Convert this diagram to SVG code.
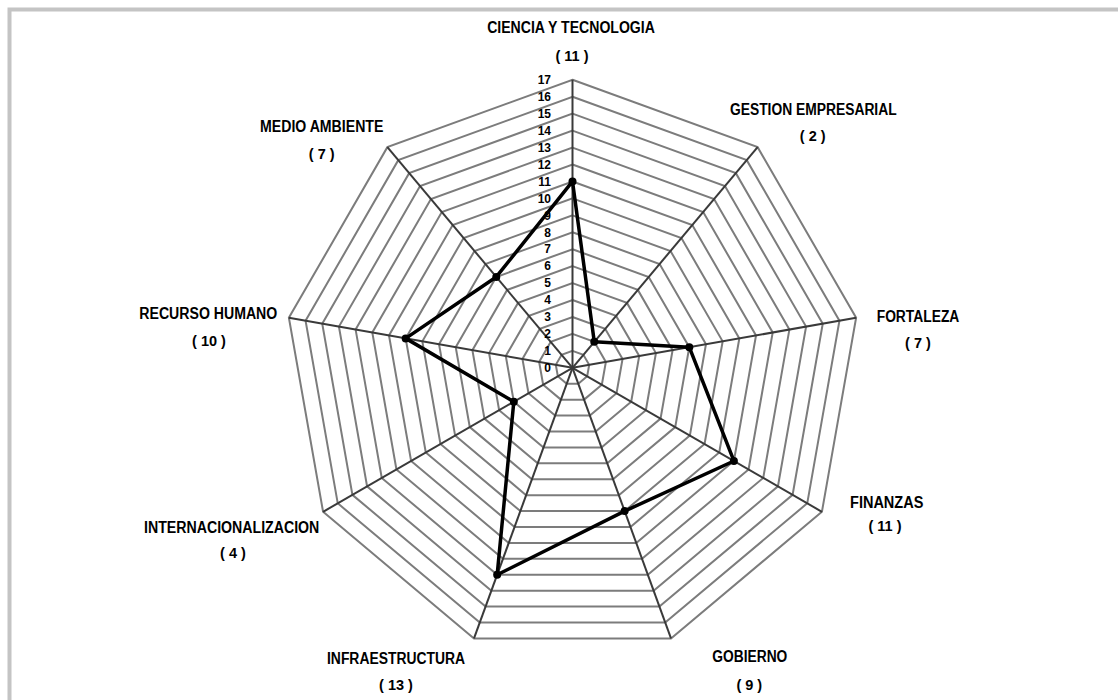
<svg xmlns="http://www.w3.org/2000/svg" xmlns:xlink="http://www.w3.org/1999/xlink" width="1118" height="700" viewBox="0 0 1118 700">
<style>
.grid{fill:none;stroke:#7c7c7c;stroke-width:2;vector-effect:non-scaling-stroke}
.axis{stroke:#3a3a3a;stroke-width:2}
.data{fill:none;stroke:#000;stroke-width:3.5;stroke-linejoin:round}
.dot{fill:#000}
.lbl{font-family:"Liberation Sans",Arial,sans-serif;font-weight:bold;font-size:16px;fill:#000;text-anchor:middle}
.val{font-family:"Liberation Sans",Arial,sans-serif;font-weight:bold;font-size:14.5px;fill:#000;text-anchor:middle}
.num{font-family:"Liberation Sans",Arial,sans-serif;font-weight:bold;font-size:12px;fill:#000;text-anchor:end}
</style>
<defs>
<polygon id="ring" class="grid" points="0,-1 0.642788,-0.766044 0.984808,-0.173648 0.866025,0.5 0.342020,0.939693 -0.342020,0.939693 -0.866025,0.5 -0.984808,-0.173648 -0.642788,-0.766044"/>
</defs>
<rect x="0" y="0" width="1118" height="700" fill="#fff"/>
<rect id="frame" x="9.5" y="9.5" width="1200" height="800" fill="none" stroke="#c4c4c4" stroke-width="4"/>
<g id="grid" transform="translate(572.5,367.8)">
<use xlink:href="#ring" transform="scale(16.941)"/>
<use xlink:href="#ring" transform="scale(33.882)"/>
<use xlink:href="#ring" transform="scale(50.824)"/>
<use xlink:href="#ring" transform="scale(67.765)"/>
<use xlink:href="#ring" transform="scale(84.706)"/>
<use xlink:href="#ring" transform="scale(101.647)"/>
<use xlink:href="#ring" transform="scale(118.588)"/>
<use xlink:href="#ring" transform="scale(135.529)"/>
<use xlink:href="#ring" transform="scale(152.471)"/>
<use xlink:href="#ring" transform="scale(169.412)"/>
<use xlink:href="#ring" transform="scale(186.353)"/>
<use xlink:href="#ring" transform="scale(203.294)"/>
<use xlink:href="#ring" transform="scale(220.235)"/>
<use xlink:href="#ring" transform="scale(237.176)"/>
<use xlink:href="#ring" transform="scale(254.118)"/>
<use xlink:href="#ring" transform="scale(271.059)"/>
<use xlink:href="#ring" transform="scale(288)"/>
</g>
<g id="axes" class="axis">
<line x1="572.5" y1="367.8" x2="572.5" y2="79.8"/>
<line x1="572.5" y1="367.8" x2="757.62" y2="147.18"/>
<line x1="572.5" y1="367.8" x2="856.12" y2="317.79"/>
<line x1="572.5" y1="367.8" x2="821.92" y2="511.8"/>
<line x1="572.5" y1="367.8" x2="671.0" y2="638.43"/>
<line x1="572.5" y1="367.8" x2="474.0" y2="638.43"/>
<line x1="572.5" y1="367.8" x2="323.08" y2="511.8"/>
<line x1="572.5" y1="367.8" x2="288.88" y2="317.79"/>
<line x1="572.5" y1="367.8" x2="387.38" y2="147.18"/>
</g>
<g id="scale" class="num">
<text x="551" y="372">0</text>
<text x="551" y="355.1">1</text>
<text x="551" y="338.1">2</text>
<text x="551" y="321.2">3</text>
<text x="551" y="304.2">4</text>
<text x="551" y="287.3">5</text>
<text x="551" y="270.4">6</text>
<text x="551" y="253.4">7</text>
<text x="551" y="236.5">8</text>
<text x="551" y="219.5">9</text>
<text x="551" y="202.6">10</text>
<text x="551" y="185.6">11</text>
<text x="551" y="168.7">12</text>
<text x="551" y="151.8">13</text>
<text x="551" y="134.8">14</text>
<text x="551" y="117.9">15</text>
<text x="551" y="100.9">16</text>
<text x="551" y="84">17</text>
</g>
<g id="connectors">
<polygon class="data" points="572.5,181.45 594.28,341.85 689.29,347.21 733.89,460.98 624.65,511.08 497.17,574.76 513.82,401.68 405.66,338.38 496.27,276.96"/>
</g>
<g id="markers" class="dot">
<circle cx="572.5" cy="181.45" r="4"/>
<circle cx="594.28" cy="341.85" r="4"/>
<circle cx="689.29" cy="347.21" r="4"/>
<circle cx="733.89" cy="460.98" r="4"/>
<circle cx="624.65" cy="511.08" r="4"/>
<circle cx="497.17" cy="574.76" r="4"/>
<circle cx="513.82" cy="401.68" r="4"/>
<circle cx="405.66" cy="338.38" r="4"/>
<circle cx="496.27" cy="276.96" r="4"/>
</g>
<g id="node-ciencia">
<text class="lbl" x="571" y="32.7" textLength="167.7" lengthAdjust="spacingAndGlyphs">CIENCIA Y TECNOLOGIA</text>
<text class="val" x="572" y="61">( 11 )</text>
</g>
<g id="node-gestion">
<text class="lbl" x="813.3" y="115" textLength="166.7" lengthAdjust="spacingAndGlyphs">GESTION EMPRESARIAL</text>
<text class="val" x="812.7" y="140.5">( 2 )</text>
</g>
<g id="node-fortaleza">
<text class="lbl" x="918" y="321.7" textLength="82.6" lengthAdjust="spacingAndGlyphs">FORTALEZA</text>
<text class="val" x="918" y="348">( 7 )</text>
</g>
<g id="node-finanzas">
<text class="lbl" x="886.7" y="507.7" textLength="73.3" lengthAdjust="spacingAndGlyphs">FINANZAS</text>
<text class="val" x="885" y="531">( 11 )</text>
</g>
<g id="node-gobierno">
<text class="lbl" x="749.8" y="662.3" textLength="75" lengthAdjust="spacingAndGlyphs">GOBIERNO</text>
<text class="val" x="749.3" y="690">( 9 )</text>
</g>
<g id="node-infraestructura">
<text class="lbl" x="396" y="664" textLength="138" lengthAdjust="spacingAndGlyphs">INFRAESTRUCTURA</text>
<text class="val" x="396" y="690">( 13 )</text>
</g>
<g id="node-internacionalizacion">
<text class="lbl" x="231.7" y="532.7" textLength="175.3" lengthAdjust="spacingAndGlyphs">INTERNACIONALIZACION</text>
<text class="val" x="233" y="558">( 4 )</text>
</g>
<g id="node-recurso">
<text class="lbl" x="208.3" y="319.3" textLength="138" lengthAdjust="spacingAndGlyphs">RECURSO HUMANO</text>
<text class="val" x="209" y="346">( 10 )</text>
</g>
<g id="node-medio">
<text class="lbl" x="321.7" y="131.7" textLength="123.3" lengthAdjust="spacingAndGlyphs">MEDIO AMBIENTE</text>
<text class="val" x="321.7" y="159">( 7 )</text>
</g>
</svg>
